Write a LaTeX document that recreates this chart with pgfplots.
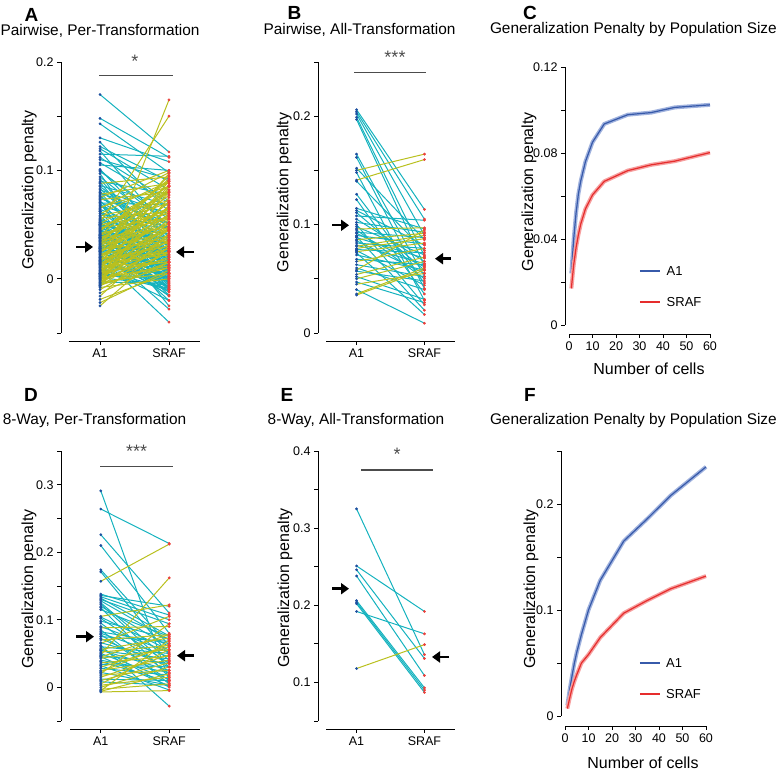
\documentclass[border=0pt]{standalone}
\usepackage{fontspec}
\setmainfont{Liberation Sans}
\usepackage{pgfplots}
\usepackage{pgfplotstable}
\pgfplotsset{compat=1.18}
\usetikzlibrary{arrows.meta}

\definecolor{a1blue}{RGB}{30,80,160}
\definecolor{srafred}{RGB}{235,65,60}
\definecolor{downcyan}{RGB}{20,178,190}
\definecolor{upyellow}{RGB}{185,192,30}
\definecolor{curveblue}{RGB}{55,90,170}
\definecolor{bandblue}{RGB}{160,178,222}
\definecolor{curvered}{RGB}{230,45,45}
\definecolor{bandred}{RGB}{246,160,160}

% A: pairwise, per-transformation (A1, SRAF)
\pgfplotstableread{
a s
0.170 0.117
0.148 0.112
0.143 0.098
0.130 0.108
0.126 0.062
0.122 0.090
0.120 0.082
0.118 0.045
0.107 0.070
0.105 0.100
0.101 0.035
0.099 0.055
0.092 0.020
0.088 0.094
0.085 0.040
0.082 0.060
0.080 0.010
0.078 0.088
0.076 0.030
0.074 0.052
0.072 0.002
0.070 0.068
0.068 0.025
0.066 0.085
0.064 0.040
0.062 -0.005
0.060 0.048
0.058 0.072
0.057 0.015
0.055 0.035
0.054 -0.025
0.052 0.150
0.051 0.028
0.050 0.060
0.049 0.008
0.048 0.042
0.047 0.022
0.046 0.080
0.045 0.000
0.044 0.032
0.043 0.012
0.042 0.055
0.041 0.018
0.040 0.038
0.039 -0.008
0.038 0.065
0.037 0.025
0.036 0.005
0.035 0.045
0.034 0.015
0.033 -0.012
0.032 0.095
0.031 0.028
0.030 0.010
0.029 0.050
0.028 -0.028
0.027 0.035
0.026 0.003
0.025 0.020
0.024 0.070
0.023 0.012
0.022 -0.015
0.021 0.040
0.020 -0.040
0.019 0.008
0.018 0.030
0.017 0.090
0.016 -0.003
0.015 0.022
0.014 0.048
0.013 0.000
0.012 0.015
0.011 -0.020
0.010 0.060
0.009 0.025
0.008 0.005
0.007 0.035
0.006 -0.010
0.005 0.165
0.005 0.018
0.004 0.045
0.003 0.002
0.002 0.028
0.001 -0.006
0.000 0.040
0.000 0.012
-0.001 0.075
-0.002 0.020
-0.003 -0.004
-0.004 0.032
-0.005 0.010
-0.006 0.052
-0.008 0.000
-0.010 0.025
-0.013 0.015
-0.016 0.042
-0.019 0.005
-0.022 0.008
-0.025 0.030
0.065 0.098
0.075 0.100
0.090 0.078
0.110 0.092
0.115 0.113
0.060 0.090
0.045 0.086
0.040 0.092
0.035 0.080
0.030 0.066
0.025 0.058
0.050 0.020
0.055 0.010
0.062 0.030
0.070 -0.010
0.080 0.045
0.045 -0.015
0.038 -0.020
0.033 0.000
0.028 0.012
0.020 -0.008
0.058 0.004
0.056 0.062
0.054 0.018
0.053 0.047
0.052 -0.002
0.051 0.085
0.050 0.033
0.049 0.070
0.048 0.011
0.047 0.056
0.046 -0.006
0.045 0.027
0.044 0.090
0.043 0.006
0.042 0.039
0.041 -0.010
0.040 0.064
0.039 0.021
0.038 0.047
0.037 -0.003
0.036 0.082
0.035 0.016
0.034 0.058
0.033 0.036
0.032 0.001
0.031 0.077
0.030 -0.016
0.029 0.026
0.028 0.062
0.027 0.009
0.026 0.044
0.025 -0.007
0.024 0.097
0.023 0.033
0.022 0.052
0.021 0.002
0.020 0.071
0.019 0.024
0.018 -0.012
0.017 0.045
0.016 0.013
0.015 0.086
0.014 -0.002
0.013 0.034
0.012 0.057
0.011 0.006
0.010 0.028
0.009 0.080
0.008 -0.009
0.007 0.047
0.006 0.016
0.005 0.066
0.004 -0.001
0.003 0.038
0.002 0.091
0.001 0.010
0.000 0.055
-0.001 0.024
-0.002 0.068
-0.003 0.005
-0.004 0.046
-0.005 0.085
-0.006 0.015
-0.007 0.036
0.063 0.012
0.067 0.051
0.069 -0.004
0.071 0.036
0.073 0.080
0.077 0.022
0.079 0.058
0.083 0.026
0.086 0.068
0.094 0.044
0.097 0.005
0.112 0.072
0.100 0.050
0.089 0.015
}\tabA

% B: pairwise, all-transformation
\pgfplotstableread{
a s
0.206 0.114
0.204 0.105
0.202 0.090
0.199 0.071
0.197 0.062
0.165 0.052
0.162 0.041
0.152 0.086
0.150 0.165
0.148 0.030
0.141 0.160
0.140 0.076
0.128 0.046
0.123 0.036
0.115 0.096
0.113 0.081
0.111 0.058
0.108 0.104
0.105 0.066
0.102 0.093
0.100 0.026
0.098 0.072
0.096 0.097
0.095 0.050
0.093 0.088
0.092 0.061
0.090 0.082
0.089 0.021
0.088 0.069
0.086 0.092
0.085 0.055
0.083 0.078
0.081 0.064
0.080 0.090
0.078 0.087
0.077 0.074
0.076 0.044
0.075 0.083
0.074 0.017
0.072 0.058
0.068 0.063
0.066 0.078
0.063 0.052
0.060 0.040
0.058 0.095
0.057 0.048
0.054 0.070
0.052 0.031
0.050 0.066
0.047 0.028
0.045 0.055
0.036 0.060
0.035 0.058
0.040 0.009
}\tabB

% D: 8-way, per-transformation
\pgfplotstableread{
a s
0.291 0.010
0.264 0.213
0.226 0.110
0.210 0.080
0.174 0.062
0.171 0.048
0.157 0.212
0.138 0.107
0.136 0.120
0.134 0.100
0.132 0.076
0.130 0.094
0.128 0.070
0.125 0.040
0.123 0.030
0.120 0.060
0.118 0.015
0.115 0.075
0.105 0.122
0.104 0.055
0.102 0.035
0.098 0.072
0.095 0.020
0.090 0.052
0.085 0.005
0.082 0.065
0.080 0.045
0.078 0.010
0.075 0.068
0.072 0.030
0.070 0.078
0.066 0.038
0.062 -0.028
0.060 0.050
0.058 0.000
0.056 0.073
0.055 0.025
0.054 0.042
0.052 0.062
0.050 0.012
0.048 0.162
0.047 0.035
0.045 0.002
0.043 0.056
0.040 0.022
0.038 0.008
0.036 0.046
0.034 0.030
0.032 -0.004
0.030 0.060
0.028 0.018
0.025 0.040
0.022 0.003
0.020 0.094
0.018 0.025
0.015 0.048
0.012 0.010
0.010 0.036
0.008 0.003
0.005 0.056
0.003 0.015
0.000 0.030
-0.003 0.005
-0.005 0.070
-0.007 -0.005
-0.006 0.020
0.065 0.105
0.088 0.090
0.045 0.078
0.023 0.064
}\tabD

% E: 8-way, all-transformation
\pgfplotstableread{
a s
0.325 0.136
0.251 0.192
0.246 0.131
0.238 0.109
0.206 0.093
0.204 0.090
0.202 0.087
0.192 0.163
0.118 0.149
}\tabE

% C and F: penalty vs number of cells
\pgfplotstableread{
n a s
1 0.024 0.017
2 0.040 0.028
3 0.052 0.036
4 0.061 0.042
5 0.067 0.047
7 0.076 0.054
10 0.085 0.0605
15 0.0935 0.0668
25 0.0978 0.0718
35 0.0988 0.0745
45 0.1012 0.0762
60 0.1024 0.0802
}\tabC

\pgfplotstableread{
n a s
1 0.010 0.007
2 0.025 0.017
3 0.038 0.026
4 0.050 0.033
5 0.060 0.039
7 0.077 0.050
10 0.100 0.058
15 0.128 0.074
25 0.165 0.097
35 0.186 0.109
45 0.208 0.120
60 0.235 0.132
}\tabF

\pgfplotsset{
  base/.style={scale only axis, clip=false, anchor=south west,
    axis lines*=left, axis x line shift=8pt, axis y line shift=8pt,
    tick align=outside, major tick length=4pt, minor tick length=4pt,
    every tick/.append style={black, line width=0.8pt},
    axis line style={black, line width=0.9pt},
    tick label style={font=\fontsize{12.5}{14}\selectfont},
    scaled y ticks=false,
    /pgf/number format/assume math mode=true},
  pairs/.style={base, xmin=-0.45, xmax=1.45,
    xtick={0,1}, xticklabels={A1,SRAF}},
  down/.style={downcyan, line width=1pt,
    quiver={u=1, v=\thisrow{s}-\thisrow{a}},
    restrict expr to domain={\thisrow{s}-\thisrow{a}}{-1:0}},
  up/.style={upyellow, line width=1pt,
    quiver={u=1, v=\thisrow{s}-\thisrow{a}},
    restrict expr to domain={\thisrow{s}-\thisrow{a}}{0:1}},
  dotA/.style={only marks, mark=*, mark size=1.2pt, a1blue},
  dotS/.style={only marks, mark=*, mark size=1.2pt, srafred},
  curves/.style={base, xmin=0, xmax=60, xtick={0,10,...,60}},
}
% #1 table, #2 legend x start, #3 legend x end, #4 text x, #5 A1 row y, #6 SRAF row y
\newcommand\curveplots[6]{%
  \addplot[bandblue, line width=4pt] table[x=n, y=a] {#1};
  \addplot[curveblue, line width=1.2pt] table[x=n, y=a] {#1};
  \addplot[bandred, line width=4pt] table[x=n, y=s] {#1};
  \addplot[curvered, line width=1.2pt] table[x=n, y=s] {#1};
  \draw[curveblue, line width=1.6pt] (axis cs:#2,#5) -- (axis cs:#3,#5);
  \draw[curvered, line width=1.6pt] (axis cs:#2,#6) -- (axis cs:#3,#6);
  \node[anchor=west, inner sep=0pt, font=\fontsize{13}{15}\selectfont] at (axis cs:#4,#5) {A1};
  \node[anchor=west, inner sep=0pt, font=\fontsize{13}{15}\selectfont] at (axis cs:#4,#6) {SRAF};
}
\newcommand\pairplots[1]{%
  \addplot[down] table[x expr=0, y=a] {#1};
  \addplot[up] table[x expr=0, y=a] {#1};
  \addplot[dotA] table[x expr=0, y=a] {#1};
  \addplot[dotS] table[x expr=1, y=s] {#1};
}

\tikzset{
  ttl/.style={font=\fontsize{15.4}{18}\selectfont, inner sep=0pt, anchor=base},
  let/.style={font=\fontsize{19}{22}\selectfont\bfseries, inner sep=0pt},
  ylab/.style={font=\fontsize{16}{19}\selectfont, rotate=90, anchor=base, inner sep=0pt},
  xlab/.style={font=\fontsize{16}{19}\selectfont, anchor=base, inner sep=0pt},
  sig/.style={gray!60!black, line width=1.2pt},
  star/.style={font=\fontsize{18}{20}\selectfont, gray!60!black, inner sep=0pt},
  fat/.style={line width=2.4pt, -{Triangle[length=8pt, width=11pt]}},
}

\begin{document}
\begin{tikzpicture}[x=1pt, y=1pt]
\path[use as bounding box] (0,0) rectangle (777,773);

% A
\begin{axis}[pairs, at={(69pt,440pt)}, width=131pt, height=271pt,
  ymin=-0.05, ymax=0.2, ytick={0,0.1,0.2}, yticklabels={0,0.1,0.2},
  minor ytick={-0.05,0.05,0.15}]
\pairplots{\tabA}
\end{axis}

% B
\begin{axis}[pairs, at={(326pt,440pt)}, width=129pt, height=271pt,
  ymin=0, ymax=0.25, ytick={0,0.1,0.2}, yticklabels={0,0.1,0.2},
  minor ytick={0.05,0.15,0.25}]
\pairplots{\tabB}
\end{axis}

% C
\begin{axis}[curves, at={(569pt,448pt)}, width=141pt, height=258pt,
  axis y line shift=4pt, axis x line shift=9pt,
  ymin=0, ymax=0.12, ytick={0,0.04,0.08,0.12}, yticklabels={0,0.04,0.08,0.12},
  minor ytick={0.02,0.06,0.1}]
\curveplots{\tabC}{30.2}{38.7}{41.5}{0.0251}{0.0107}
\end{axis}

% D
\begin{axis}[pairs, at={(70pt,52pt)}, width=130pt, height=270pt,
  axis y line shift=9pt,
  ymin=-0.05, ymax=0.35, ytick={0,0.1,0.2,0.3}, yticklabels={0,0.1,0.2,0.3},
  minor ytick={-0.05,0.05,0.15,0.25,0.35}]
\pairplots{\tabD}
\end{axis}

% E
\begin{axis}[pairs, at={(326pt,52pt)}, width=129pt, height=270pt,
  ymin=0.05, ymax=0.4, ytick={0.1,0.2,0.3,0.4}, yticklabels={0.1,0.2,0.3,0.4},
  minor ytick={0.05,0.15,0.25,0.35}]
\pairplots{\tabE}
\end{axis}

% F
\begin{axis}[curves, at={(565pt,57pt)}, width=141pt, height=265pt,
  axis y line shift=4pt, axis x line shift=10pt,
  ymin=0, ymax=0.25, ytick={0,0.1,0.2}, yticklabels={0,0.1,0.2},
  minor ytick={0.05,0.15,0.25}]
\curveplots{\tabF}{31.9}{40.4}{43}{0.05}{0.0208}
\end{axis}

% panel letters
\node[let] at (31.5,758.5) {A};
\node[let] at (294.5,760.5) {B};
\node[let] at (530,760.5) {C};
\node[let] at (31,378) {D};
\node[let] at (287,378) {E};
\node[let] at (530,378) {F};

% titles
\node[ttl] at (100,737) {Pairwise, Per-Transformation};
\node[ttl] at (359.5,738) {Pairwise, All-Transformation};
\node[ttl, anchor=base east] at (777,739) {Generalization Penalty by Population Size};
\node[ttl] at (94.5,348) {8-Way, Per-Transformation};
\node[ttl] at (356,348.7) {8-Way, All-Transformation};
\node[ttl, anchor=base east] at (777,348.7) {Generalization Penalty by Population Size};

% axis labels
\node[ylab] at (33.3,582.7) {Generalization penalty};
\node[ylab] at (288.3,580.5) {Generalization penalty};
\node[ylab] at (533,581.3) {Generalization penalty};
\node[ylab] at (33,184) {Generalization penalty};
\node[ylab] at (289,185) {Generalization penalty};
\node[ylab] at (535,184) {Generalization penalty};
\node[xlab] at (649,398) {Number of cells};
\node[xlab] at (643,4.7) {Number of cells};

% significance bars
\draw[sig] (99,697.7) -- (173,697.7);
\node[star] at (135,712) {*};
\draw[sig] (354,700.7) -- (426,700.7);
\node[star] at (395,715.5) {***};
\draw[sig] (100,306.3) -- (173.3,306.3);
\node[star] at (136.7,322) {***};
\draw[sig] (361,303) -- (433.3,303);
\node[star] at (397,319) {*};

% mean arrows
\draw[fat] (76,526) -- (93,526);
\draw[fat] (194,521) -- (176,521);
\draw[fat] (332,547.7) -- (349,547.7);
\draw[fat] (451,514.3) -- (435,514.3);
\draw[fat] (76,136.3) -- (94,136.3);
\draw[fat] (194,117.3) -- (177,117.3);
\draw[fat] (332,184.3) -- (349,184.3);
\draw[fat] (449,116) -- (432,116);
\end{tikzpicture}
\end{document}
